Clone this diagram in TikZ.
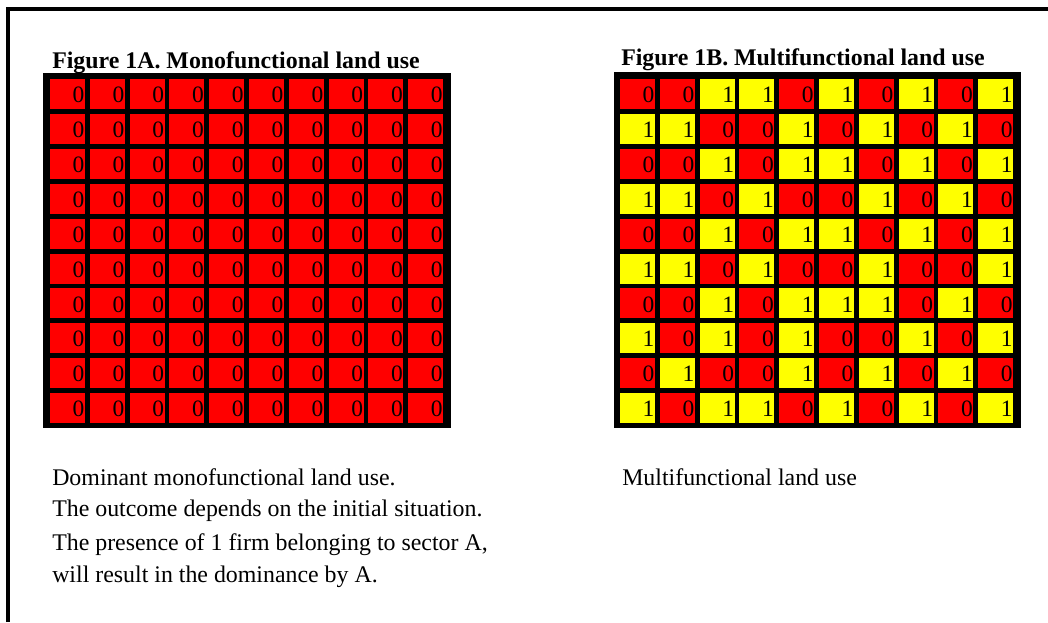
\documentclass[tikz,border=0pt]{standalone}
\usepackage{fontspec}
\setmainfont{Liberation Serif}
\definecolor{c0}{RGB}{255,0,0}
\definecolor{c1}{RGB}{255,255,0}
\tikzset{
  frameline/.style={line width=3pt, black},
  gridbg/.style={fill=black, draw=none},
  cellbox/.style={draw=none, inner sep=0pt, minimum width=26.25pt, minimum height=22.5pt},
  digit/.style={anchor=base east, inner sep=0pt, yshift=5pt, xshift=-0.4pt, font=\fontsize{17.6}{20}\selectfont},
  titletext/.style={anchor=base west, inner sep=0pt, font=\fontsize{17.9}{20}\selectfont\bfseries},
  bodytext/.style={anchor=base west, inner sep=0pt, font=\fontsize{17.9}{20}\selectfont},
}
\begin{document}
\begin{tikzpicture}[x=0.75pt, y=-0.75pt]
\useasboundingbox (0,0) rectangle (1048,622);
% frame (only top and left edges visible)
\draw[frameline] (7.5,622) -- (7.5,8.5) -- (1048,8.5);
% titles
\node[titletext] (titleA) at (52,68) {Figure 1A. Monofunctional land use};
\node[titletext] (titleB) at (621,65) {Figure 1B. Multifunctional land use};
% grid A background
\fill[gridbg] (43,72.7) rectangle (450.7,428.3);
\foreach \r in {1,...,10}{
  \foreach \c in {1,...,10}{
    \node[cellbox, fill=c0, label={[digit]south east:0}] (A-\r-\c) at ({67.5+39.8*(\c-1)},{94+34.9*(\r-1)}) {};
  }
}
% grid B background
\fill[gridbg] (614,71.7) rectangle (1020.7,428.3);
\foreach \row [count=\r] in {
  {0,0,1,1,0,1,0,1,0,1},
  {1,1,0,0,1,0,1,0,1,0},
  {0,0,1,0,1,1,0,1,0,1},
  {1,1,0,1,0,0,1,0,1,0},
  {0,0,1,0,1,1,0,1,0,1},
  {1,1,0,1,0,0,1,0,0,1},
  {0,0,1,0,1,1,1,0,1,0},
  {1,0,1,0,1,0,0,1,0,1},
  {0,1,0,0,1,0,1,0,1,0},
  {1,0,1,1,0,1,0,1,0,1}}{
  \foreach \v [count=\c] in \row {
    \node[cellbox, fill=c\v, label={[digit]south east:\v}] (B-\r-\c) at ({637.5+39.8*(\c-1)},{94+34.9*(\r-1)}) {};
  }
}
% captions
\node[bodytext] (capA1) at (52,485) {Dominant monofunctional land use.};
\node[bodytext] (capA2) at (52,516.7) {The outcome depends on the initial situation.};
\node[bodytext] (capA3) at (52,550.7) {The presence of 1 firm belonging to sector A,};
\node[bodytext] (capA4) at (52,582.7) {will result in the dominance by A.};
\node[bodytext] (capB1) at (622,485) {Multifunctional land use};
\end{tikzpicture}
\end{document}
